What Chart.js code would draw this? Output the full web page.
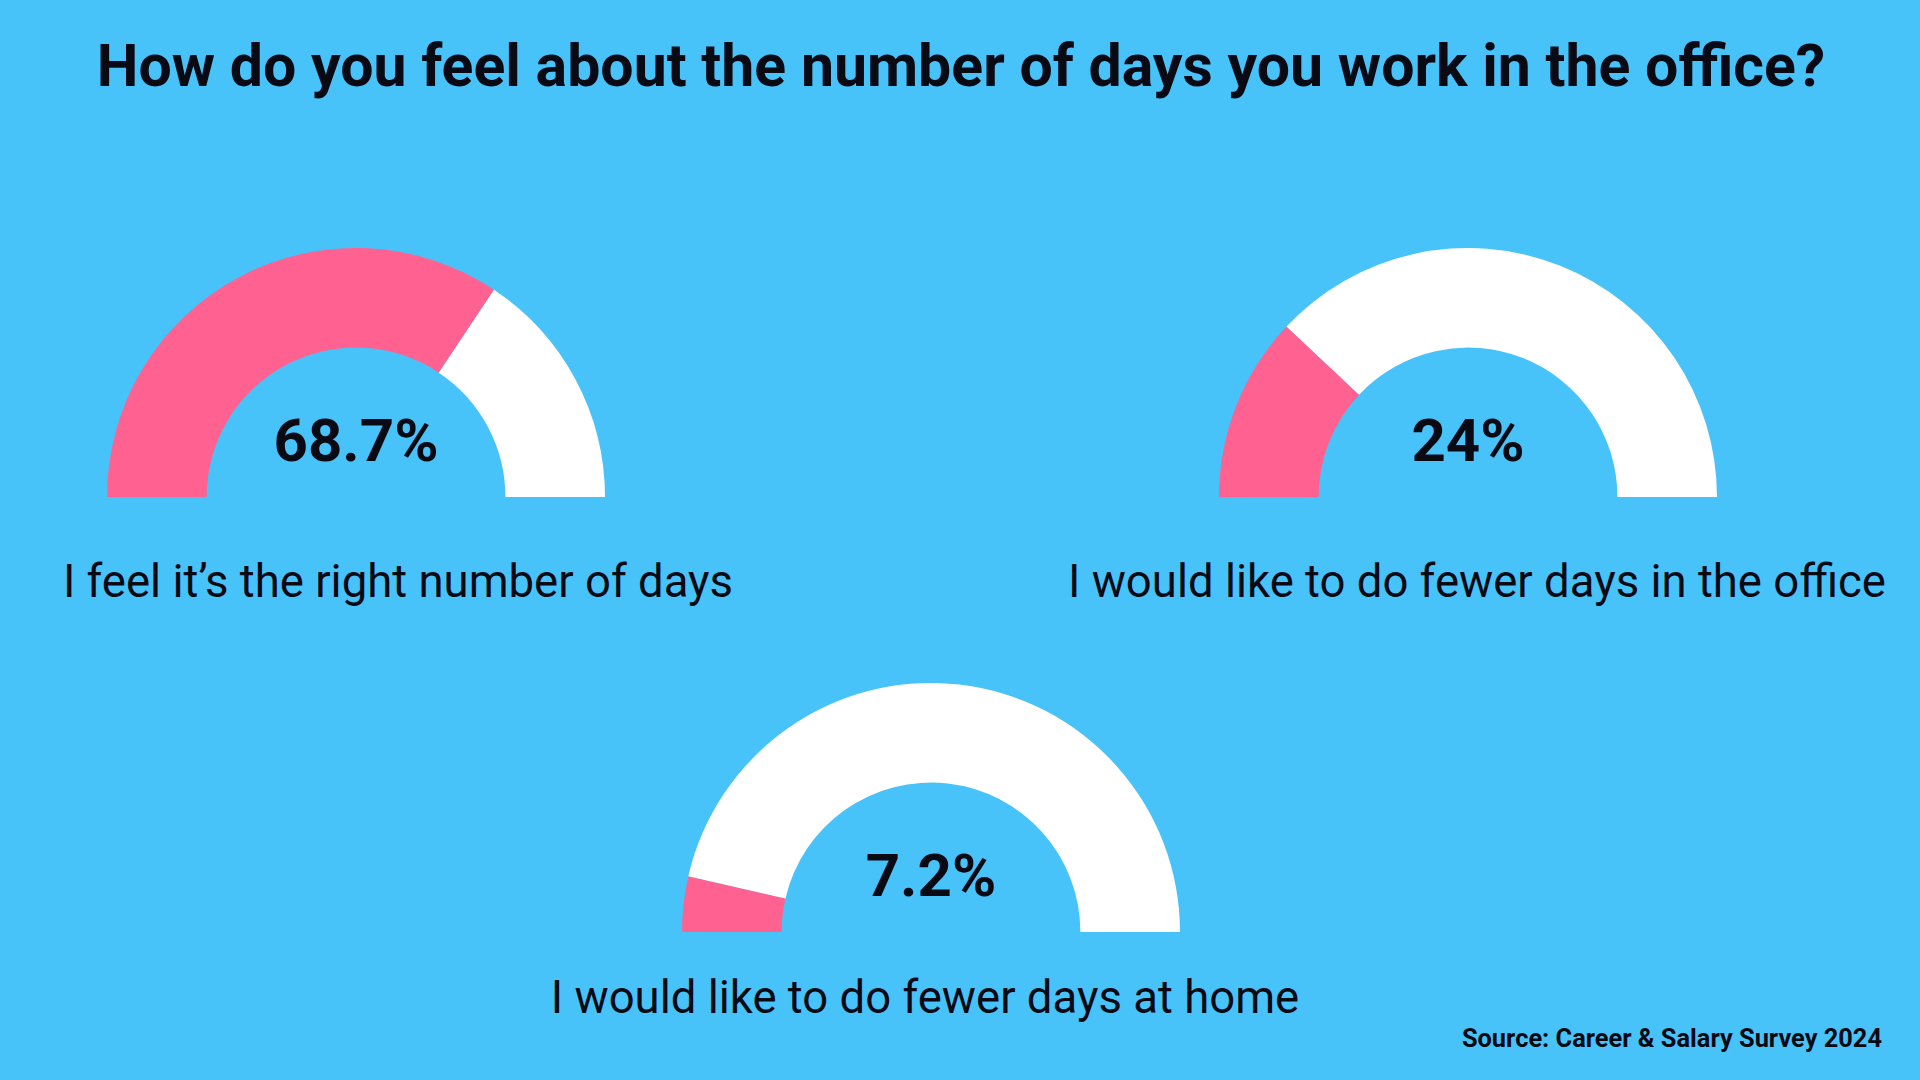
<!DOCTYPE html>
<html>
<head>
<meta charset="utf-8">
<script src="https://cdn.jsdelivr.net/npm/chart.js@4.4.1/dist/chart.umd.min.js"></script>
<style>
    body {
        margin: 0;
        width: 1920px;
        height: 1080px;
        background: #48c3fa;
        font-family: Roboto, "Noto Sans", sans-serif;
        color: #0a0a14;
        position: relative;
        overflow: hidden;
    }
    .txt {
        position: absolute;
        line-height: 1;
        white-space: nowrap;
        transform: translateX(-50%);
    }
    .title { font-size: 59px; font-weight: 700; }
    .value { font-size: 60px; font-weight: 700; }
    .label { font-size: 45.5px; font-weight: 400; }
    .source {
        position: absolute;
        right: 38px;
        top: 1026px;
        font-size: 25.4px;
        font-weight: 700;
        line-height: 1;
    }
    .gauge { position: absolute; }
</style>
</head>
<body>
<div class="txt title" style="left:961px; top:36px;">How do you feel about the number of days you work in the office?</div>
<div class="source">Source: Career &amp; Salary Survey 2024</div>

<script>
// survey answers and share of respondents (%)
const answers = [
    'I feel it\u2019s the right number of days',
    'I would like to do fewer days in the office',
    'I would like to do fewer days at home'
];
const shares = [68.7, 24, 7.2];
const shareLabels = ['68.7%', '24%', '7.2%'];

const PINK = '#ff6190';
const WHITE = '#ffffff';

// layout of each gauge: center x, bottom y, radius, label position
const layout = [
    { cx: 356, cy: 497, r: 249, labelX: 398, labelTop: 559 },
    { cx: 1468, cy: 497, r: 249, labelX: 1477, labelTop: 559 },
    { cx: 931, cy: 932, r: 249, labelX: 925, labelTop: 975 }
];

function makeGauge(i) {
    const pos = layout[i];
    const wrap = document.createElement('div');
    wrap.className = 'gauge';
    wrap.style.left = (pos.cx - pos.r) + 'px';
    wrap.style.top = (pos.cy - pos.r) + 'px';
    wrap.style.width = (pos.r * 2) + 'px';
    wrap.style.height = pos.r + 'px';
    const canvas = document.createElement('canvas');
    wrap.appendChild(canvas);
    document.body.appendChild(wrap);

    new Chart(canvas.getContext('2d'), {
        type: 'doughnut',
        data: {
            labels: ['Yes', 'Rest'],
            datasets: [{
                data: [shares[i], 100 - shares[i]],
                backgroundColor: [PINK, WHITE],
                borderWidth: 0,
            }],
        },
        options: {
            responsive: true,
            maintainAspectRatio: false,
            animation: false,
            rotation: -90,
            circumference: 180,
            cutout: '60%',
            layout: { padding: 0 },
            plugins: {
                legend: { display: false },
                tooltip: { enabled: false },
            },
        },
    });

    const val = document.createElement('div');
    val.className = 'txt value';
    val.textContent = shareLabels[i];
    val.style.left = pos.cx + 'px';
    val.style.top = (pos.cy - 86) + 'px';
    document.body.appendChild(val);

    const lab = document.createElement('div');
    lab.className = 'txt label';
    lab.textContent = answers[i];
    lab.style.left = pos.labelX + 'px';
    lab.style.top = pos.labelTop + 'px';
    document.body.appendChild(lab);
}

window.onload = function () {
    for (let i = 0; i < answers.length; i++) {
        makeGauge(i);
    }
};
</script>
</body>
</html>
